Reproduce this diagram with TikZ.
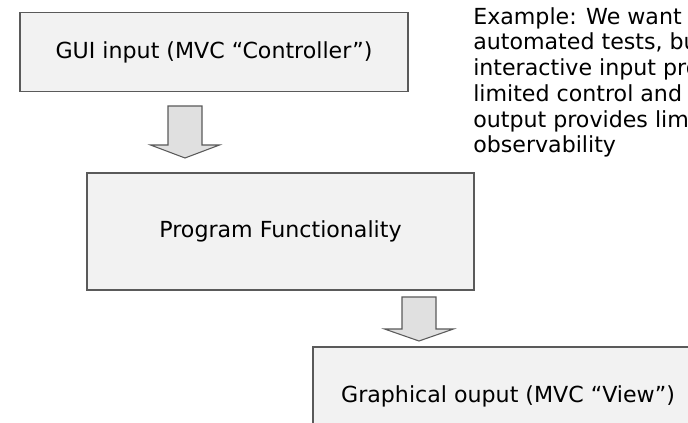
\documentclass[tikz,border=0pt]{standalone}
\usepackage{fontspec}
\setmainfont{DejaVu Sans}
\definecolor{boxgray}{RGB}{242, 242, 242}
\definecolor{arrgray}{RGB}{224, 224, 224}
\definecolor{edgegray}{RGB}{90, 90, 90}

% block arrow pointing down: #1 top centre, #2 shaft length, #3 head length
\newcommand{\blockdown}[3]{%
  \draw[blockarr, shift={#1}] (-17,0) -- (17,0) -- (17,#2) -- (34.5,#2)
    -- (0,#2+#3) -- (-34.5,#2) -- (-17,#2) -- cycle;}

\begin{document}
\begin{tikzpicture}[
    x=0.75pt, y=-0.75pt,
    stage/.style={draw=edgegray, fill=boxgray, line width=0.9pt, font=\fontsize{16.6}{19.3}\selectfont},
    blockarr/.style={draw=edgegray, fill=arrgray, line width=0.8pt},
    note/.style={anchor=north west, align=left, inner sep=0pt, font=\fontsize{16.6}{19.3}\selectfont}
  ]
  \useasboundingbox (0,0) rectangle (688,423);
  \clip (0,0) rectangle (688,423);

  \node[stage, minimum width=291pt, minimum height=59.25pt] (gui) at (214,52) {GUI input (MVC “Controller”)};
  \node[stage, minimum width=290.25pt, minimum height=87.75pt] (prog) at (280.5,231.5) {Program Functionality};
  \node[stage, minimum width=292.5pt, minimum height=73.5pt] (view) at (508,396) {Graphical ouput (MVC “View”)};

  \blockdown{(185,106)}{39}{13}
  \blockdown{(419,297)}{32}{12}

  \node[note] (ex) at (473,7) {Example: We want\\
    automated tests, but\\
    interactive input provides\\
    limited control and\\
    output provides limited\\
    observability};

\end{tikzpicture}
\end{document}
